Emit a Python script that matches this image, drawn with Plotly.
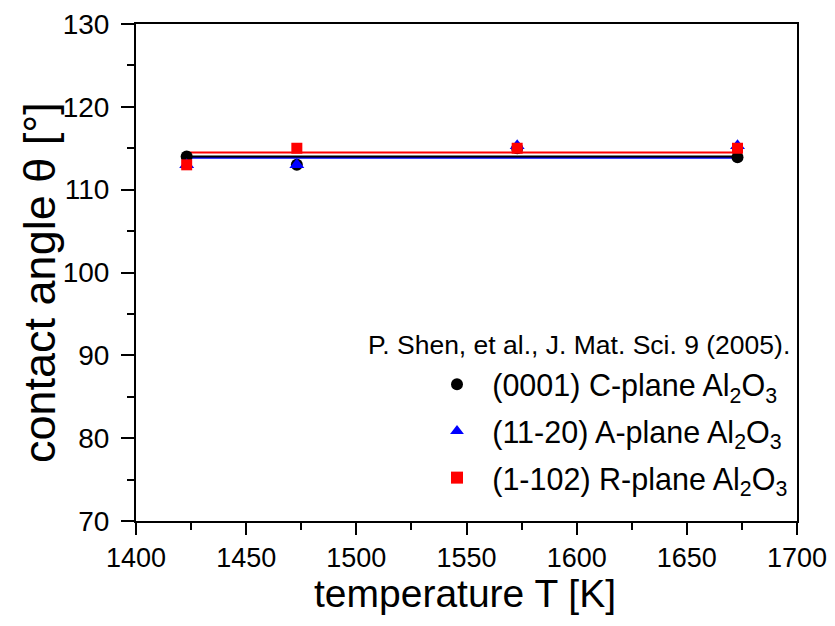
import plotly.graph_objects as go

temps = [1423, 1473, 1573, 1673]
c_plane = [114.0, 113.0, 115.0, 113.9]
a_plane = [113.0, 113.0, 115.3, 115.3]
r_plane = [113.0, 115.0, 115.0, 115.0]

fit_x = [1423, 1673]
fit_c = [114.0, 114.0]
fit_a = [113.85, 113.85]
fit_r = [114.5, 114.5]

names = ["(0001) C-plane Al<sub>2</sub>O<sub>3</sub>",
         "(11-20) A-plane Al<sub>2</sub>O<sub>3</sub>",
         "(1-102) R-plane Al<sub>2</sub>O<sub>3</sub>"]
colors = ["#000000", "#0000ff", "#ff0000"]
citation = "P. Shen, et al., J. Mat. Sci. 9 (2005)."
x_title = "temperature T [K]"
y_title = "contact angle θ [°]"

REG = "Liberation Sans, Arial, sans-serif"

# page offset of the figure (body margin) and target plot box on the page
OFF = 8
PL, PR, PT, PB = 136, 797, 24, 521
W, H = 835 - OFF, 626 - OFF
pw, ph = PR - PL, PB - PT

def px_x(p):
    return (p - PL) / pw

def px_y(p):
    return (PB - p) / ph

fig = go.Figure()

for fy, col in [(fit_a, colors[1]), (fit_c, colors[0]), (fit_r, colors[2])]:
    fig.add_trace(go.Scatter(x=fit_x, y=fy, mode="lines",
                             line=dict(color=col, width=2), showlegend=False,
                             hoverinfo="skip"))

symbols = ["circle", "triangle-up", "square"]
sizes = [12, 13, 11]
for i, vals in enumerate([c_plane, a_plane, r_plane]):
    fig.add_trace(go.Scatter(x=temps, y=vals, mode="markers", name="\u2002" + names[i],
                             legendgroup=f"g{i}",
                             marker=dict(symbol=symbols[i], size=sizes[i], color=colors[i])))

fig.add_annotation(text=citation, xref="paper", yref="paper",
                   x=px_x(792), y=px_y(345),
                   xanchor="right", yanchor="middle", showarrow=False,
                   font=dict(size=26.5, family=REG, color="black"))

fig.add_annotation(text=y_title, xref="paper", yref="paper",
                   x=px_x(39), y=px_y(283), textangle=-90,
                   xanchor="center", yanchor="middle", showarrow=False,
                   font=dict(size=45, family=REG, color="black"))

fig.add_annotation(text=x_title, xref="paper", yref="paper",
                   x=px_x(465), y=px_y(593),
                   xanchor="center", yanchor="middle", showarrow=False,
                   font=dict(size=39, family=REG, color="black"))

fig.update_layout(
    width=W, height=H,
    margin=dict(l=PL - OFF, r=W - (PR - OFF), t=PT - OFF, b=H - (PB - OFF), autoexpand=False),
    paper_bgcolor="white", plot_bgcolor="white",
    font=dict(family=REG, color="black"),
    showlegend=True,
    legend=dict(
        x=px_x(437), y=px_y(358), xanchor="left", yanchor="top",
        bgcolor="rgba(0,0,0,0)", tracegroupgap=4,
        font=dict(size=30.5, family=REG),
        itemsizing="constant",
    ),
    xaxis=dict(
        range=[1400, 1700], dtick=50, tick0=1400, automargin=False,
        showgrid=False, zeroline=False,
        showline=True, linecolor="black", linewidth=2, mirror=True,
        ticks="outside", ticklen=12, tickwidth=2, tickcolor="black",
        minor=dict(ticks="outside", ticklen=7, tickwidth=2, dtick=25, tickcolor="black"),
        tickfont=dict(size=27, family=REG),
    ),
    yaxis=dict(
        range=[70, 130], dtick=10, tick0=70, automargin=False,
        showgrid=False, zeroline=False,
        showline=True, linecolor="black", linewidth=2, mirror=True,
        ticks="outside", ticklen=13, tickwidth=2, tickcolor="black",
        minor=dict(ticks="outside", ticklen=7, tickwidth=2, dtick=5, tickcolor="black"),
        tickfont=dict(size=28, family=REG), ticklabelstandoff=6,
    ),
    yaxis2=dict(
        range=[70, 130], dtick=5, tick0=70, overlaying="y", side="right",
        showgrid=False, zeroline=False, showticklabels=False, automargin=False,
        ticks="outside", ticklen=3, tickwidth=2, tickcolor="black",
    ),
)

fig.write_html("out.html")
